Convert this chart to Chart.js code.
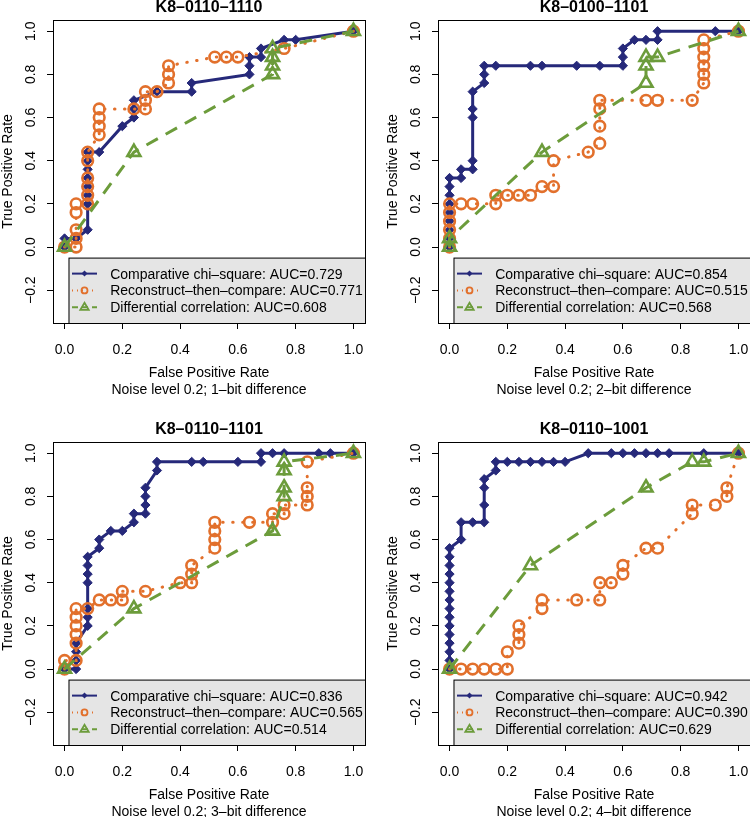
<!DOCTYPE html>
<html>
<head>
<meta charset="utf-8">
<script src="https://cdn.jsdelivr.net/npm/chart.js@4.4.0/dist/chart.umd.min.js"></script>
<style>
  html, body { margin: 0; padding: 0; background: #fff; overflow: hidden; width: 750px; height: 817px; }
  .panel { position: absolute; width: 375px; height: 410px; }
</style>
</head>
<body>
<div class="panel" style="left:0;top:0"><canvas id="c0" width="375" height="410"></canvas></div>
<div class="panel" style="left:385px;top:0"><canvas id="c1" width="375" height="410"></canvas></div>
<div class="panel" style="left:0;top:422px"><canvas id="c2" width="375" height="410"></canvas></div>
<div class="panel" style="left:385px;top:422px"><canvas id="c3" width="375" height="410"></canvas></div>
<script>
// ---- data ----
const panelTitles = ["K8–0110–1110", "K8–0100–1101", "K8–0110–1101", "K8–0110–1001"];
const panelSubtitles = [
    "Noise level 0.2; 1–bit difference",
    "Noise level 0.2; 2–bit difference",
    "Noise level 0.2; 3–bit difference",
    "Noise level 0.2; 4–bit difference"
];
const methodNames = ["Comparative chi–square", "Reconstruct–then–compare", "Differential correlation"];
const aucValues = [
    ["0.729", "0.771", "0.608"],
    ["0.854", "0.515", "0.568"],
    ["0.836", "0.565", "0.514"],
    ["0.942", "0.390", "0.629"]
];
const xTicks = [0, 0.2, 0.4, 0.6, 0.8, 1.0];
const yTicks = [-0.2, 0, 0.2, 0.4, 0.6, 0.8, 1.0];
const xTickLabels = ["0.0", "0.2", "0.4", "0.6", "0.8", "1.0"];
const yTickLabels = ["−0.2", "0.0", "0.2", "0.4", "0.6", "0.8", "1.0"];

// Comparative chi-square (one list per panel)
const chiFpr = [
    [0, 0, 0.04, 0.08, 0.08, 0.08, 0.08, 0.08, 0.08, 0.08, 0.08, 0.12, 0.2, 0.24, 0.24, 0.24, 0.32, 0.44, 0.44, 0.64, 0.64, 0.64, 0.68, 0.68, 0.76, 0.8, 1],
    [0, 0, 0, 0, 0, 0, 0, 0, 0, 0.04, 0.04, 0.08, 0.08, 0.08, 0.08, 0.08, 0.12, 0.12, 0.12, 0.16, 0.28, 0.32, 0.44, 0.52, 0.6, 0.6, 0.6, 0.64, 0.68, 0.72, 0.72, 0.92, 1],
    [0, 0.04, 0.04, 0.04, 0.04, 0.08, 0.08, 0.08, 0.08, 0.08, 0.08, 0.08, 0.12, 0.12, 0.16, 0.2, 0.24, 0.24, 0.28, 0.28, 0.28, 0.28, 0.32, 0.32, 0.44, 0.48, 0.6, 0.68, 0.68, 0.72, 0.76, 0.88, 0.92, 1],
    [0, 0, 0, 0, 0, 0, 0, 0, 0, 0, 0, 0, 0, 0, 0, 0.04, 0.04, 0.08, 0.12, 0.12, 0.12, 0.12, 0.16, 0.16, 0.2, 0.24, 0.28, 0.32, 0.36, 0.4, 0.48, 0.56, 0.6, 0.64, 0.68, 0.72, 0.76, 0.88, 1]
];
const chiTpr = [
    [0, 0.04, 0.04, 0.08, 0.2, 0.24, 0.28, 0.32, 0.36, 0.4, 0.44, 0.44, 0.56, 0.6, 0.64, 0.68, 0.72, 0.72, 0.76, 0.8, 0.84, 0.88, 0.88, 0.92, 0.96, 0.96, 1],
    [0, 0.04, 0.08, 0.12, 0.16, 0.2, 0.24, 0.28, 0.32, 0.32, 0.36, 0.36, 0.4, 0.6, 0.64, 0.72, 0.76, 0.8, 0.84, 0.84, 0.84, 0.84, 0.84, 0.84, 0.84, 0.88, 0.92, 0.96, 0.96, 0.96, 1, 1, 1],
    [0, 0, 0.04, 0.08, 0.12, 0.2, 0.24, 0.28, 0.4, 0.44, 0.48, 0.52, 0.56, 0.6, 0.64, 0.64, 0.68, 0.72, 0.72, 0.76, 0.8, 0.84, 0.92, 0.96, 0.96, 0.96, 0.96, 0.96, 1, 1, 1, 1, 1, 1],
    [0, 0.04, 0.08, 0.12, 0.16, 0.2, 0.24, 0.28, 0.32, 0.36, 0.4, 0.44, 0.48, 0.52, 0.56, 0.6, 0.68, 0.68, 0.68, 0.76, 0.84, 0.88, 0.92, 0.96, 0.96, 0.96, 0.96, 0.96, 0.96, 0.96, 1, 1, 1, 1, 1, 1, 1, 1, 1]
];

// Reconstruct-then-compare
const recFpr = [
    [0, 0.04, 0.04, 0.04, 0.04, 0.04, 0.08, 0.08, 0.08, 0.08, 0.08, 0.08, 0.12, 0.12, 0.12, 0.12, 0.24, 0.28, 0.28, 0.28, 0.32, 0.36, 0.36, 0.36, 0.52, 0.56, 0.6, 0.76, 1],
    [0, 0, 0, 0, 0, 0, 0.04, 0.08, 0.16, 0.16, 0.2, 0.24, 0.28, 0.32, 0.36, 0.36, 0.48, 0.52, 0.52, 0.52, 0.52, 0.68, 0.72, 0.84, 0.88, 0.88, 0.88, 0.88, 0.88, 0.88, 1],
    [0, 0, 0.04, 0.04, 0.04, 0.04, 0.04, 0.04, 0.08, 0.12, 0.16, 0.2, 0.2, 0.28, 0.4, 0.44, 0.44, 0.44, 0.52, 0.52, 0.52, 0.52, 0.64, 0.72, 0.72, 0.76, 0.76, 0.84, 0.84, 0.84, 0.84, 1],
    [0, 0.04, 0.08, 0.12, 0.16, 0.2, 0.2, 0.24, 0.24, 0.24, 0.32, 0.32, 0.44, 0.52, 0.52, 0.56, 0.6, 0.6, 0.68, 0.72, 0.84, 0.84, 0.92, 0.96, 0.96, 1]
];
const recTpr = [
    [0, 0, 0.04, 0.08, 0.16, 0.2, 0.2, 0.24, 0.28, 0.32, 0.4, 0.44, 0.52, 0.56, 0.6, 0.64, 0.64, 0.64, 0.68, 0.72, 0.72, 0.76, 0.8, 0.84, 0.88, 0.88, 0.88, 0.92, 1],
    [0, 0.04, 0.08, 0.12, 0.16, 0.2, 0.2, 0.2, 0.2, 0.24, 0.24, 0.24, 0.24, 0.28, 0.28, 0.4, 0.44, 0.48, 0.56, 0.64, 0.68, 0.68, 0.68, 0.68, 0.76, 0.8, 0.84, 0.88, 0.92, 0.96, 1],
    [0, 0.04, 0.04, 0.12, 0.16, 0.2, 0.24, 0.28, 0.28, 0.32, 0.32, 0.32, 0.36, 0.36, 0.4, 0.4, 0.44, 0.48, 0.56, 0.6, 0.64, 0.68, 0.68, 0.68, 0.72, 0.72, 0.76, 0.76, 0.8, 0.84, 0.96, 1],
    [0, 0, 0, 0, 0, 0, 0.08, 0.12, 0.16, 0.2, 0.28, 0.32, 0.32, 0.32, 0.4, 0.4, 0.44, 0.48, 0.56, 0.56, 0.72, 0.76, 0.76, 0.8, 0.84, 1]
];

// Differential correlation
const corFpr = [
    [0, 0.24, 0.72, 0.72, 0.72, 0.72, 1],
    [0, 0, 0.32, 0.68, 0.68, 0.68, 0.72, 1],
    [0, 0.24, 0.72, 0.76, 0.76, 0.76, 0.76, 1],
    [0, 0.28, 0.68, 0.84, 0.88, 1]
];
const corTpr = [
    [0, 0.44, 0.8, 0.84, 0.88, 0.92, 1],
    [0, 0.04, 0.44, 0.76, 0.84, 0.88, 0.88, 1],
    [0, 0.28, 0.64, 0.8, 0.84, 0.92, 0.96, 1],
    [0, 0.48, 0.84, 0.96, 0.96, 1]
];

const navy = "#26297a";
const orange = "#e2702c";
const green = "#6c9c3b";
const FONT = '"Liberation Sans", Arial, Helvetica, sans-serif';

function toPoints(xs, ys) {
    return xs.map((x, i) => ({ x: x, y: ys[i] }));
}

// small legend symbols
function legendMarker(ctx, kind, x, y) {
    ctx.save();
    if (kind === 0) {
        ctx.fillStyle = navy;
        ctx.beginPath();
        ctx.moveTo(x, y - 3); ctx.lineTo(x + 3, y); ctx.lineTo(x, y + 3); ctx.lineTo(x - 3, y);
        ctx.closePath(); ctx.fill();
    } else if (kind === 1) {
        ctx.strokeStyle = orange; ctx.lineWidth = 1.8;
        ctx.beginPath(); ctx.arc(x, y, 3, 0, Math.PI * 2); ctx.stroke();
    } else {
        ctx.strokeStyle = green; ctx.lineWidth = 1.8;
        ctx.beginPath();
        ctx.moveTo(x, y - 4.5); ctx.lineTo(x + 4.2, y + 2.6); ctx.lineTo(x - 4.2, y + 2.6);
        ctx.closePath(); ctx.stroke();
    }
    ctx.restore();
}

// R-style decorations: box, title, axis labels, legend
const decor = {
    id: "decor",
    afterDraw(chart, args, opts) {
        const p = opts.panel;
        const ctx = chart.ctx;
        const a = chart.chartArea;
        const xs = chart.scales.x, ys = chart.scales.y;
        const cx = (a.left + a.right) / 2;
        const cy = (a.top + a.bottom) / 2;
        ctx.save();

        // plot box
        ctx.strokeStyle = "#000";
        ctx.lineWidth = 1;
        ctx.strokeRect(a.left + 0.5, a.top + 0.5, a.right - a.left, a.bottom - a.top);

        // title
        ctx.fillStyle = "#000";
        ctx.textAlign = "center";
        ctx.textBaseline = "alphabetic";
        ctx.font = "bold 16px " + FONT;
        ctx.fillText(panelTitles[p], cx, a.top - 8.3);

        // x tick labels + titles
        ctx.font = "14px " + FONT;
        xTicks.forEach((v, i) => {
            ctx.fillText(xTickLabels[i], xs.getPixelForValue(v), a.bottom + 30.5);
        });
        ctx.fillText("False Positive Rate", cx, a.bottom + 54);
        ctx.fillText(panelSubtitles[p], cx, a.bottom + 70.6);

        // y tick labels (rotated) + title
        yTicks.forEach((v, i) => {
            ctx.save();
            ctx.translate(a.left - 18, ys.getPixelForValue(v));
            ctx.rotate(-Math.PI / 2);
            ctx.fillText(yTickLabels[i], 0, 0);
            ctx.restore();
        });
        ctx.save();
        ctx.translate(a.left - 41, cy);
        ctx.rotate(-Math.PI / 2);
        ctx.fillText("True Positive Rate", 0, 0);
        ctx.restore();

        // legend
        const lx = a.left + 15.5, ly = a.bottom - 65.4;
        ctx.fillStyle = "#e5e5e5";
        ctx.fillRect(lx, ly, a.right - lx, a.bottom - ly);
        ctx.strokeStyle = "#000";
        ctx.lineWidth = 1;
        ctx.strokeRect(lx + 0.5, ly + 0.5, a.right - lx, a.bottom - ly);
        const rows = [a.bottom - 49.4, a.bottom - 32.6, a.bottom - 15.8];
        const colors = [navy, orange, green];
        const dashes = [[], [1, 4], [6, 4]];
        rows.forEach((ry, k) => {
            ctx.save();
            ctx.strokeStyle = colors[k];
            ctx.lineWidth = 2;
            ctx.setLineDash(dashes[k]);
            ctx.beginPath();
            ctx.moveTo(lx + 3.5, ry);
            ctx.lineTo(lx + 28.5, ry);
            ctx.stroke();
            ctx.restore();
            legendMarker(ctx, k, lx + 16, ry);
            ctx.fillStyle = "#000";
            ctx.textAlign = "left";
            ctx.font = "14px " + FONT;
            ctx.fillText(methodNames[k] + ": AUC=" + aucValues[p][k], lx + 41.7, ry + 5);
        });
        ctx.restore();
    }
};

function makePanel(p) {
    const canvas = document.getElementById("c" + p);
    new Chart(canvas, {
        type: "line",
        data: {
            datasets: [
                {
                    data: toPoints(chiFpr[p], chiTpr[p]),
                    borderColor: navy,
                    backgroundColor: navy,
                    borderWidth: 3,
                    pointStyle: "rectRot",
                    pointRadius: 4.6,
                    pointBorderWidth: 1,
                    pointBackgroundColor: navy,
                    pointBorderColor: navy,
                    order: 3
                },
                {
                    data: toPoints(recFpr[p], recTpr[p]),
                    borderColor: orange,
                    borderWidth: 3,
                    borderDash: [0.5, 9.5],
                    borderCapStyle: "round",
                    pointStyle: "circle",
                    pointRadius: 5.3,
                    pointBorderWidth: 2.6,
                    pointBackgroundColor: "rgba(0,0,0,0)",
                    pointBorderColor: orange,
                    order: 2
                },
                {
                    data: toPoints(corFpr[p], corTpr[p]),
                    borderColor: green,
                    borderWidth: 3,
                    borderDash: [13, 9],
                    pointStyle: "triangle",
                    pointRadius: 7.5,
                    pointBorderWidth: 2.6,
                    pointBackgroundColor: "rgba(0,0,0,0)",
                    pointBorderColor: green,
                    order: 1
                }
            ]
        },
        options: {
            responsive: false,
            animation: false,
            devicePixelRatio: 1,
            layout: { autoPadding: false, padding: { left: 0, top: 20, right: 10, bottom: 0 } },
            plugins: {
                legend: { display: false },
                tooltip: { enabled: false },
                decor: { panel: p }
            },
            scales: {
                x: {
                    type: "linear",
                    min: -0.04,
                    max: 1.04,
                    afterBuildTicks: s => { s.ticks = xTicks.map(v => ({ value: v })); },
                    afterFit: s => { s.height = 87; },
                    ticks: { display: false },
                    grid: { drawOnChartArea: false, drawTicks: true, tickLength: 6, color: "#000", lineWidth: 1 },
                    border: { display: false }
                },
                y: {
                    type: "linear",
                    min: -0.352,
                    max: 1.052,
                    afterBuildTicks: s => { s.ticks = yTicks.map(v => ({ value: v })); },
                    afterFit: s => { s.width = 53; },
                    ticks: { display: false },
                    grid: { drawOnChartArea: false, drawTicks: true, tickLength: 6, color: "#000", lineWidth: 1 },
                    border: { display: false }
                }
            }
        },
        plugins: [decor]
    });
}

[0, 1, 2, 3].forEach(makePanel);
</script>
</body>
</html>
